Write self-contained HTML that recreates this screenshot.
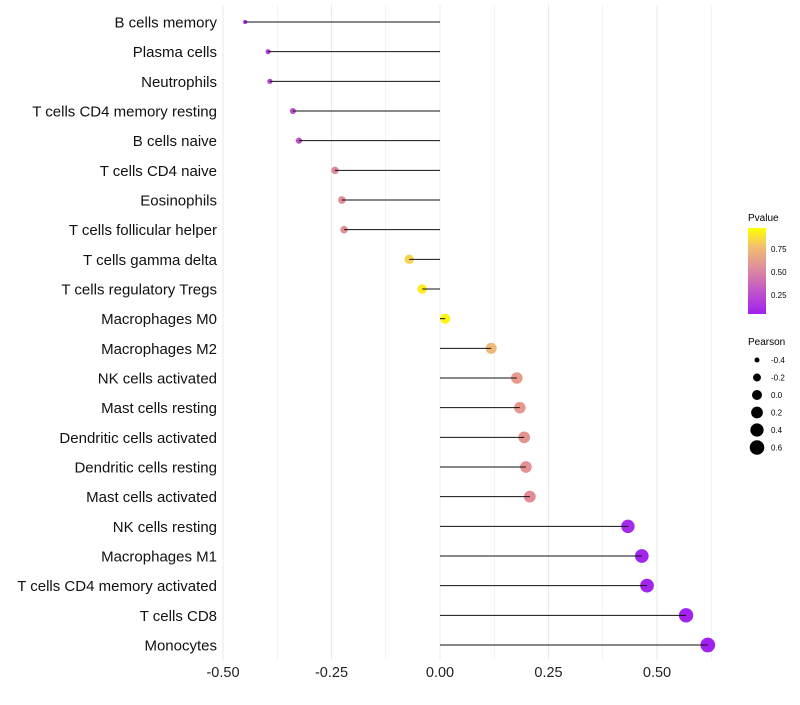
<!DOCTYPE html>
<html><head><meta charset="utf-8"><style>
body{margin:0;background:#fff;}
svg text{font-family:"Liberation Sans",sans-serif;}
</style></head><body>
<svg id="chart" width="800" height="700">
<defs><linearGradient id="pg" x1="0" y1="1" x2="0" y2="0">
<stop offset="0" stop-color="#A020F0"/><stop offset="0.27" stop-color="#C156C8"/><stop offset="0.52" stop-color="#DE8A9E"/><stop offset="0.78" stop-color="#F2BE72"/><stop offset="1" stop-color="#FFFF00"/></linearGradient></defs>
<g id="grid"></g>
<g id="marks"></g>
<g id="ylabels"></g>
<g id="xlabels"></g>
<g>
<text x="748" y="221" font-size="10">Pvalue</text>
<rect x="748" y="228" width="18" height="86" fill="url(#pg)"/>
<text x="771" y="252" font-size="8">0.75</text>
<text x="771" y="275" font-size="8">0.50</text>
<text x="771" y="298" font-size="8">0.25</text>
</g>
<g id="sizeleg">
<text x="748" y="345" font-size="10">Pearson</text>
</g>
</svg>
<script>
const categories=["B cells memory","Plasma cells","Neutrophils","T cells CD4 memory resting","B cells naive","T cells CD4 naive","Eosinophils","T cells follicular helper","T cells gamma delta","T cells regulatory  Tregs ","Macrophages M0","Macrophages M2","NK cells activated","Mast cells resting","Dendritic cells activated","Dendritic cells resting","Mast cells activated","NK cells resting","Macrophages M1","T cells CD4 memory activated","T cells CD8","Monocytes"];
const pearson=[-0.449,-0.396,-0.392,-0.339,-0.325,-0.242,-0.226,-0.221,-0.071,-0.041,0.012,0.118,0.177,0.184,0.194,0.198,0.207,0.433,0.465,0.477,0.567,0.617];
const pvalues=[0.03,0.15,0.16,0.22,0.25,0.5,0.52,0.53,0.85,0.93,0.97,0.75,0.6,0.58,0.56,0.55,0.52,0.05,0.03,0.02,0.01,0.003];
const xTicks=[-0.5,-0.25,0,0.25,0.5];
const xTickLabels=["-0.50","-0.25","0.00","0.25","0.50"];
const sizeLegend=[-0.4,-0.2,0.0,0.2,0.4,0.6];
const ns="http://www.w3.org/2000/svg";
const x=v=>440+v*434;
const y=i=>22+i*(623/21);
const r=v=>Math.sqrt(4+(v+0.45)/(1.07)*50);
const stops=[[0,[160,32,240]],[0.27,[193,86,200]],[0.52,[226,140,150]],[0.78,[242,190,114]],[1,[255,255,0]]];
function col(p){for(let k=1;k<stops.length;k++){if(p<=stops[k][0]){const a=stops[k-1],b=stops[k],t=(p-a[0])/(b[0]-a[0]);return 'rgb('+a[1].map((c,j)=>Math.round(c+(b[1][j]-c)*t)).join(',')+')';}}return 'rgb(255,255,0)';}
function mk(t,at,parent){const e=document.createElementNS(ns,t);for(const k in at)e.setAttribute(k,at[k]);document.getElementById(parent).appendChild(e);return e;}
for(let v=-0.5;v<=0.626;v+=0.125){const e=mk('line',{x1:x(v),x2:x(v),y1:5,y2:660,stroke:'#ebebeb','stroke-width':Math.abs((v*4)%1)<0.01?1.1:0.6},'grid');

}
xTicks.forEach((v,i)=>{const t=mk('text',{x:x(v),y:677,'font-size':14.5,'text-anchor':'middle',fill:'#222'},'xlabels');t.textContent=xTickLabels[i];

});
categories.forEach((c,i)=>{
const t=mk('text',{x:217,y:y(i)+5.5,'font-size':15,'text-anchor':'end',fill:'#111'},'ylabels');t.textContent=c;


const p=mk('circle',{cx:x(pearson[i]),cy:y(i),r:r(pearson[i]),fill:col(pvalues[i])},'marks');


const l=mk('line',{x1:x(0),x2:x(pearson[i]),y1:y(i),y2:y(i),stroke:'#111','stroke-width':1},'marks');


});
sizeLegend.forEach((v,i)=>{const yy=360+i*17.5;
const c=mk('circle',{cx:757,cy:yy,r:r(v),fill:'#000'},'sizeleg');


const t=mk('text',{x:771,y:yy+3,'font-size':8},'sizeleg');t.textContent=v.toFixed(1);

});
</script>
</body></html>
